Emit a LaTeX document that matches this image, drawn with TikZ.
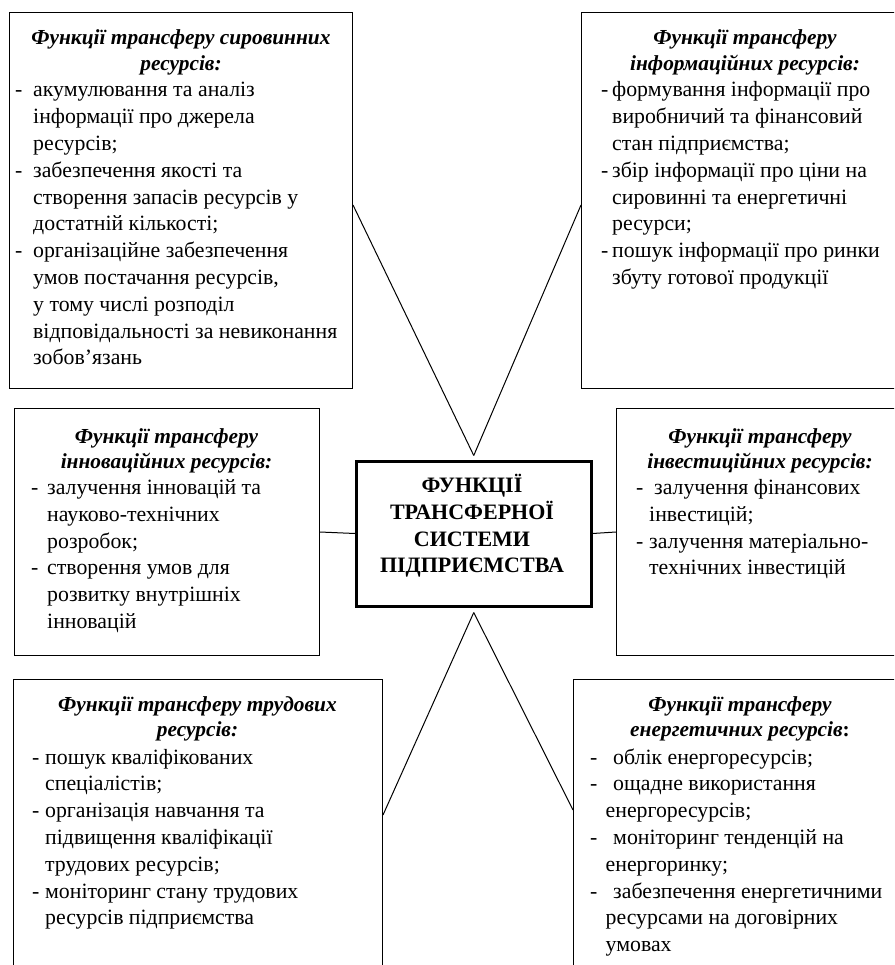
\documentclass[tikz,border=0pt]{standalone}
\usepackage{fontspec}
\setmainfont{Liberation Serif}
\usetikzlibrary{calc}
\newcommand\dl[2]{\makebox[#1pt][l]{-}#2}
\newcommand\cl[2]{\hspace*{#1pt}#2}
\begin{document}
\begin{tikzpicture}[x=1pt,y=-1pt,
  box/.style={draw, line width=1pt, inner sep=0pt, anchor=north west},
  hub/.style={draw, line width=3pt, inner sep=0pt, anchor=north west},
  head/.style={inner sep=0pt, anchor=base, font=\fontsize{21.4}{25.5}\selectfont\bfseries\itshape},
  items/.style={inner sep=0pt, anchor=base west, font=\fontsize{21.8}{26.8}\selectfont},
  hubtext/.style={inner sep=0pt, anchor=base, font=\fontsize{22}{26.8}\selectfont\bfseries},
  link/.style={line width=1pt}]
\useasboundingbox (0,0) rectangle (894,965);
\clip (0,0) rectangle (894,965);
\fill[white] (0,0) rectangle (894,965);

% boxes
\node[box, minimum width=343pt, minimum height=376pt] (tl) at (9,12) {};
\node[box, minimum width=328pt, minimum height=376pt] (tr) at (581,12) {};
\node[box, minimum width=305pt, minimum height=247pt] (ml) at (14,408) {};
\node[box, minimum width=288pt, minimum height=247pt] (mr) at (616,408) {};
\node[box, minimum width=369pt, minimum height=330pt] (bl) at (13,679) {};
\node[box, minimum width=334pt, minimum height=330pt] (br) at (573,679) {};
\node[hub, minimum width=234.5pt, minimum height=145pt] (c) at (355,459.5) {};

% centre text
\node[hubtext] (ct) at (472,492.5) {\parbox[t]{230pt}{\centering ФУНКЦІЇ\\ТРАНСФЕРНОЇ\\СИСТЕМИ\\ПІДПРИЄМСТВА}};

% top left
\node[head] (tlh) at (181,45) {\parbox[t]{340pt}{\centering Функції трансферу сировинних\\ресурсів:}};
\node[items] (tli) at (15,97) {\parbox[t]{400pt}{%
\dl{18}{акумулювання та аналіз}\\
\cl{18}{інформації про джерела}\\
\cl{18}{ресурсів;}\\
\dl{18}{забезпечення якості та}\\
\cl{18}{створення запасів ресурсів у}\\
\cl{18}{достатній кількості;}\\
\dl{18}{організаційне забезпечення}\\
\cl{18}{умов постачання ресурсів,}\\
\cl{18}{у тому числі розподіл}\\
\cl{18}{відповідальності за невиконання}\\
\cl{18}{зобов’язань}}};

% top right
\node[head] (trh) at (745,45) {\parbox[t]{320pt}{\centering Функції трансферу\\інформаційних ресурсів:}};
\node[items] (tri) at (601,97) {\parbox[t]{400pt}{%
\dl{11}{формування інформації про}\\
\cl{11}{виробничий та фінансовий}\\
\cl{11}{стан підприємства;}\\
\dl{11}{збір інформації про ціни на}\\
\cl{11}{сировинні та енергетичні}\\
\cl{11}{ресурси;}\\
\dl{11}{пошук інформації про ринки}\\
\cl{11}{збуту готової продукції}}};

% middle left
\node[head] (mlh) at (166.5,443) {\parbox[t]{300pt}{\centering Функції трансферу\\інноваційних ресурсів:}};
\node[items] (mli) at (31,494.5) {\parbox[t]{400pt}{%
\dl{16}{залучення інновацій та}\\
\cl{16}{науково-технічних}\\
\cl{16}{розробок;}\\
\dl{16}{створення умов для}\\
\cl{16}{розвитку внутрішніх}\\
\cl{16}{інновацій}}};

% middle right
\node[head] (mrh) at (760,443) {\parbox[t]{300pt}{\centering Функції трансферу\\інвестиційних ресурсів:}};
\node[items] (mri) at (636,494.5) {\parbox[t]{400pt}{%
\dl{18}{залучення фінансових}\\
\cl{13}{інвестицій;}\\
\dl{13}{залучення матеріально-}\\
\cl{13}{технічних інвестицій}}};

% bottom left
\node[head] (blh) at (197.5,711) {\parbox[t]{360pt}{\centering Функції трансферу трудових\\ресурсів:}};
\node[items] (bli) at (32,764) {\parbox[t]{400pt}{%
\dl{13}{пошук кваліфікованих}\\
\cl{13}{спеціалістів;}\\
\dl{13}{організація навчання та}\\
\cl{13}{підвищення кваліфікації}\\
\cl{13}{трудових ресурсів;}\\
\dl{13}{моніторинг стану трудових}\\
\cl{13}{ресурсів підприємства}}};

% bottom right
\node[head] (brh) at (740,711) {\parbox[t]{320pt}{\centering Функції трансферу\\енергетичних ресурсів\textup{:}}};
\node[items] (bri) at (590,764) {\parbox[t]{400pt}{%
\dl{23}{облік енергоресурсів;}\\
\dl{23}{ощадне використання}\\
\cl{15.5}{енергоресурсів;}\\
\dl{23}{моніторинг тенденцій на}\\
\cl{15.5}{енергоринку;}\\
\dl{23}{забезпечення енергетичними}\\
\cl{15.5}{ресурсами на договірних}\\
\cl{15.5}{умовах}}};

% connectors
\draw[link] ($(tl.north east)+(0,193)$) -- ($(c.north)+(0,-4)$);
\draw[link] ($(tr.north west)+(0,193)$) -- ($(c.north)+(0,-4)$);
\draw[link] ($(bl.north east)+(0,136)$) -- ($(c.south)+(0,5)$);
\draw[link] ($(br.north west)+(0,131)$) -- ($(c.south)+(0,5)$);
\draw[link] (ml.east) -- (c.west);
\draw[link] (mr.west) -- (c.east);
\end{tikzpicture}
\end{document}
